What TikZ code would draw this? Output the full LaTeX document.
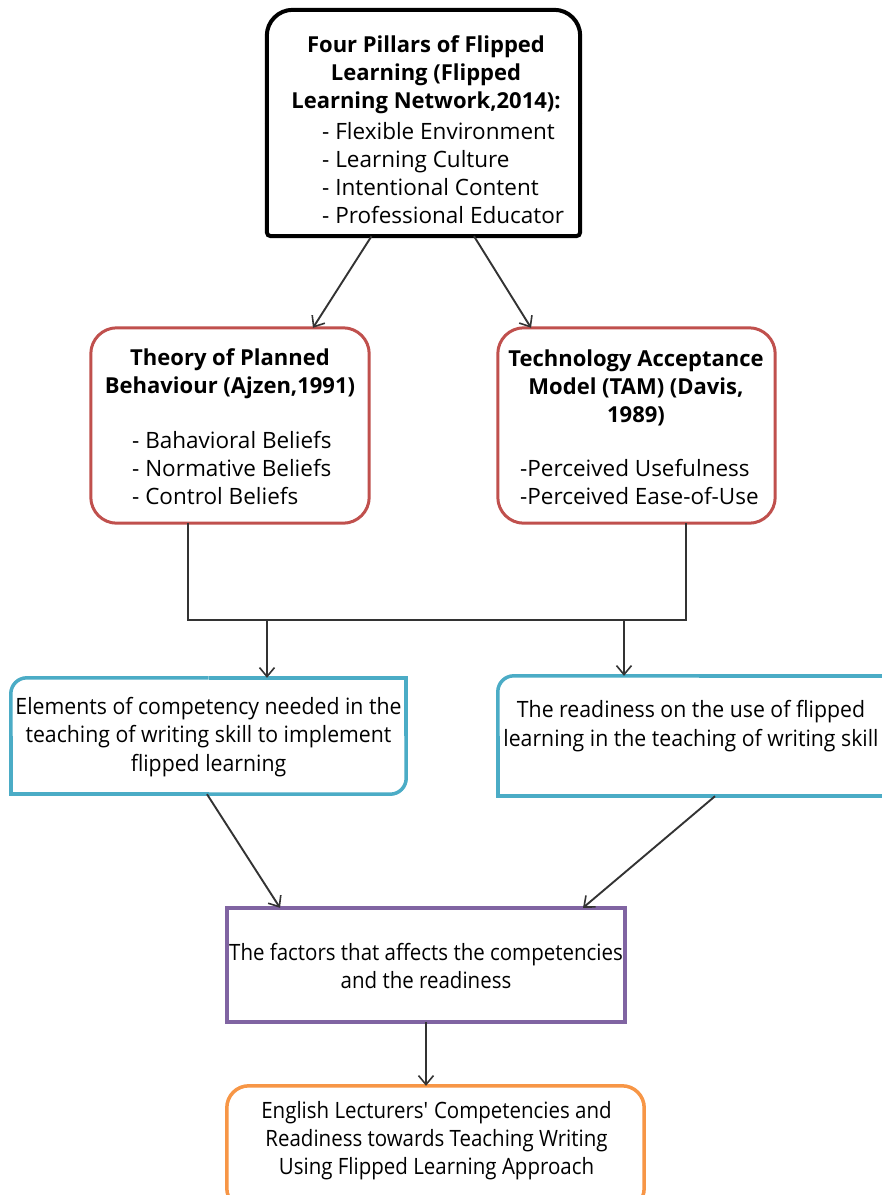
\documentclass[tikz,border=0pt]{standalone}
\usepackage{fontspec}
\setmainfont{Open Sans}
\newfontfamily\narrowA[FakeStretch=0.945]{Open Sans}
\newfontfamily\narrowB[FakeStretch=0.91]{Open Sans}
\usetikzlibrary{arrows.meta,calc}
\definecolor{cred}{HTML}{C0504D}
\definecolor{cblue}{HTML}{4BACC6}
\definecolor{cpurple}{HTML}{8064A2}
\definecolor{corange}{HTML}{F79646}
\definecolor{cline}{HTML}{333333}
\begin{document}
\begin{tikzpicture}[x=1pt,y=-1pt,
  boxn/.style={inner sep=0pt, draw=none},
  txt/.style={inner sep=0pt, text=black, font=\fontsize{22.5}{28}\selectfont},
  txtA/.style={inner sep=0pt, text=black, align=center, font=\narrowA\fontsize{22.5}{28.5}\selectfont},
  txtB/.style={inner sep=0pt, text=black, align=center, font=\narrowB\fontsize{22.5}{28}\selectfont},
  ttl/.style={inner sep=0pt, text=black, font=\fontsize{22}{28}\selectfont\bfseries, align=center},
  conn/.style={draw=cline, line width=1.9pt, -{Straight Barb[length=9pt,width=15pt,line width=1.6pt]}},
  plainline/.style={draw=cline, line width=2.2pt},
  topline/.style={draw=black, line width=4pt},
  redline/.style={draw=cred, line width=3pt},
  blueline/.style={draw=cblue, line width=3.5pt},
  purpleline/.style={draw=cpurple, line width=3.5pt},
  orangeline/.style={draw=corange, line width=3.5pt}
]
\useasboundingbox (0,0) rectangle (882,1195);
\fill[white] (0,0) rectangle (882,1195);

% box nodes
\node[boxn, minimum width=313pt, minimum height=226pt] (top) at (423.5,123) {};
\node[boxn, minimum width=278pt, minimum height=195pt] (redL) at (230,425.5) {};
\node[boxn, minimum width=277pt, minimum height=195pt] (redR) at (636.5,425.5) {};
\node[boxn, minimum width=395pt, minimum height=116pt] (blueL) at (208.5,736) {};
\node[boxn, minimum width=402pt, minimum height=120pt] (blueR) at (699,736) {};
\node[boxn, minimum width=398pt, minimum height=114pt] (purple) at (426,965) {};
\node[boxn, minimum width=417pt, minimum height=124pt] (orange) at (435.5,1148) {};

% outlines
\draw[topline, rounded corners=26pt] (top.west) -- (top.north west) -- (top.north east) -- (top.east);
\draw[topline, rounded corners=4pt] (top.east) -- (top.south east) -- (top.south west) -- (top.west);
\draw[redline, rounded corners=26pt] (redL.north west) rectangle (redL.south east);
\draw[redline, rounded corners=26pt] (redR.north west) rectangle (redR.south east);
\draw[blueline, rounded corners=16pt] (blueL.west) -- (blueL.north west) -- (blueL.north);
\draw[blueline] (blueL.north) -- (blueL.north east) -- (blueL.east);
\draw[blueline, rounded corners=16pt] (blueL.east) -- (blueL.south east) -- (blueL.south);
\draw[blueline] (blueL.south) -- (blueL.south west) -- (blueL.west);
\draw[blueline, rounded corners=16pt] (blueR.west) -- (blueR.north west) -- (blueR.north);
\draw[blueline] (blueR.north) -- (blueR.north east) -- (blueR.south east) -- (blueR.south west) -- (blueR.west);
\draw[purpleline] (purple.north west) rectangle (purple.south east);
\draw[orangeline, rounded corners=22pt] (orange.north west) rectangle (orange.south east);

% texts
\node[ttl] (topT) at (426,75) {Four Pillars of Flipped\\Learning (Flipped\\Learning Network,2014):};
\node[txt, anchor=west, align=left] (topL) at (322,173) {- Flexible Environment\\- Learning Culture\\- Intentional Content\\- Professional Educator};
\node[ttl] (redLT) at (230,374) {Theory of Planned\\Behaviour (Ajzen,1991)};
\node[txt, anchor=west, align=left] (redLL) at (132,468) {- Bahavioral Beliefs\\- Normative Beliefs\\- Control Beliefs};
\node[ttl] (redRT) at (636,388) {Technology Acceptance\\Model (TAM) (Davis,\\1989)};
\node[txt, anchor=west, align=left] (redRL) at (520,482) {-Perceived Usefulness\\-Perceived Ease-of-Use};
\node[txtA] (blueLT) at (208.5,737) {Elements of competency needed in the\\teaching of writing skill to implement\\flipped learning};
\node[txtA] (blueRT) at (691,726) {The readiness on the use of flipped\\learning in the teaching of writing skill};
\node[txtB] (purpleT) at (426,966) {The factors that affects the competencies\\and the readiness};
\node[txtB] (orangeT) at (436.5,1141) {English Lecturers\textquotesingle{} Competencies and\\Readiness towards Teaching Writing\\Using Flipped Learning Approach};

% connectors
\draw[conn] ([xshift=-52pt]top.south) -- ([xshift=83pt]redL.north);
\draw[conn] ([xshift=50.5pt]top.south) -- ([xshift=-105.5pt]redR.north);
\coordinate (bus) at (686,620);
\coordinate (tapL) at (267,620);
\coordinate (tapR) at (624,620);
\draw[plainline] ([xshift=-42pt]redL.south) |- (bus) -- ([xshift=49.5pt]redR.south);
\draw[conn] (tapL) -- (tapL |- blueL.north);
\draw[conn] (tapR) -- (tapR |- blueR.north);
\draw[conn] ([xshift=-1.5pt]blueL.south) -- ([xshift=-146pt]purple.north);
\draw[conn] ([xshift=16pt]blueR.south) -- ([xshift=157pt]purple.north);
\draw[conn] (purple.south) -- (purple.south |- orange.north);
\end{tikzpicture}
\end{document}
